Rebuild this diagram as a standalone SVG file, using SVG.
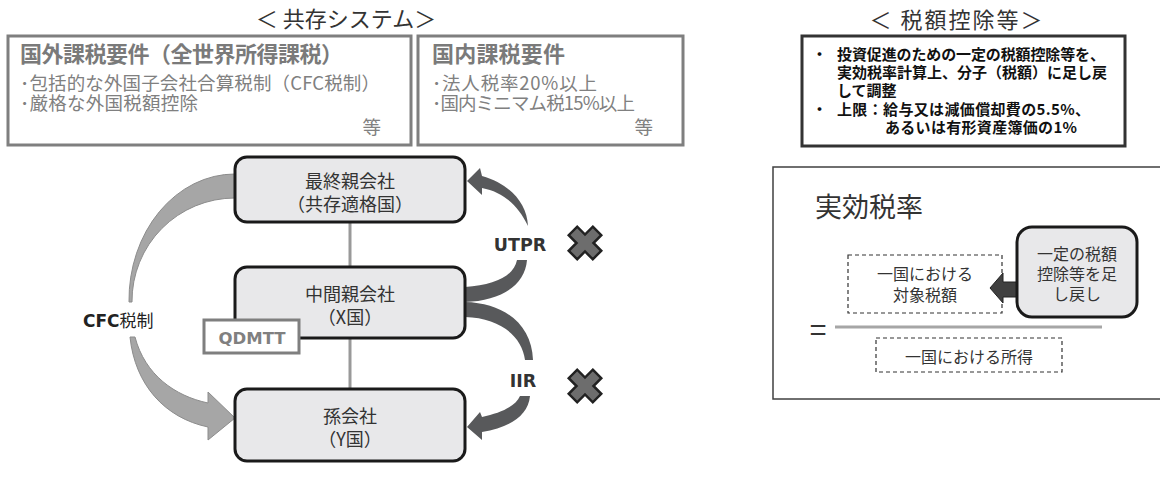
<svg xmlns="http://www.w3.org/2000/svg" width="1160" height="488" viewBox="0 0 1160 488">
<defs>
<style>
text{font-family:"Noto Sans CJK JP","Noto Sans",sans-serif;}
.ttl{font-size:22px;fill:#333;}
.gbox{fill:#fff;stroke:#7f7f7f;stroke-width:3;}
.ghead{font-size:22px;font-weight:bold;fill:#7a7a7a;}
.gtxt{font-size:18.5px;fill:#808080;}
.node{fill:#e8e8ea;stroke:#1a1a1a;stroke-width:3;}
.ntxt{font-size:18px;fill:#333;text-anchor:middle;}
.lat{font-family:"DejaVu Sans",sans-serif;font-weight:bold;}
.dash{fill:none;stroke:#333;stroke-width:1.2;stroke-dasharray:4 3;}
.rtxt{font-size:16px;fill:#333;text-anchor:middle;}
.btxt{font-size:15px;font-weight:bold;fill:#111;}
.xm{fill:#6d6d6d;stroke:#222;stroke-width:2.5;stroke-linejoin:miter;}
.dark{fill:#58595b;}
.lite{fill:#a6a6a6;stroke:#8c8c8c;stroke-width:1;}
</style>
<path id="xmark" d="M-6,-17H6V-6H17V6H6V17H-6V6H-17V-6H-6Z"/>
</defs>
<rect width="1160" height="488" fill="#fff"/>

<text class="ttl" x="346" y="27" text-anchor="middle">＜ 共存システム＞</text>
<text class="ttl" x="957" y="28" text-anchor="middle" letter-spacing="2">＜ 税額控除等＞</text>

<g id="foreign-req">
<rect class="gbox" x="8" y="36" width="403" height="109"/>
<text class="ghead" x="20" y="62" textLength="323" lengthAdjust="spacing">国外課税要件（全世界所得課税）</text>
<text class="gtxt" x="20" y="90" textLength="360" lengthAdjust="spacing">･包括的な外国子会社合算税制（CFC税制）</text>
<text class="gtxt" x="20" y="110" textLength="178" lengthAdjust="spacing">･厳格な外国税額控除</text>
<text class="gtxt" x="381" y="134" text-anchor="end">等</text>
</g>

<g id="domestic-req">
<rect class="gbox" x="418" y="36" width="265" height="109"/>
<text class="ghead" x="432" y="62" textLength="133" lengthAdjust="spacing">国内課税要件</text>
<text class="gtxt" x="432" y="90" textLength="165" lengthAdjust="spacing">･法人税率20%以上</text>
<text class="gtxt" x="432" y="110" textLength="203" lengthAdjust="spacing">･国内ミニマム税15%以上</text>
<text class="gtxt" x="653" y="134" text-anchor="end">等</text>
</g>

<g id="credit-box">
<rect x="802" y="36" width="323" height="110" fill="#fff" stroke="#333" stroke-width="3"/>
<text class="btxt" x="812" y="60">・</text>
<text class="btxt" x="837" y="60" textLength="268" lengthAdjust="spacing">投資促進のための一定の税額控除等を、</text>
<text class="btxt" x="837" y="78" textLength="270" lengthAdjust="spacing">実効税率計算上、分子（税額）に足し戻</text>
<text class="btxt" x="837" y="96">して調整</text>
<text class="btxt" x="812" y="115">・</text>
<text class="btxt" x="837" y="115" textLength="253" lengthAdjust="spacing">上限：給与又は減価償却費の5.5%、</text>
<text class="btxt" x="885" y="133" textLength="192" lengthAdjust="spacing">あるいは有形資産簿価の1%</text>
</g>

<g id="connectors">
<line x1="350" y1="222" x2="350" y2="267" stroke="#999" stroke-width="3"/>
<line x1="350" y1="338" x2="350" y2="389" stroke="#999" stroke-width="3"/>
<path class="lite" d="M235,174 A106,126 0 0 0 129,302 L132,302 A103,103 0 0 1 235,198 Z"/>
<path class="lite" d="M130,337 C135,385 165,418 208,427 L208,440 L235,418 L208,392 L208,403 C175,396 145,375 135,337 Z"/>
<path class="dark" d="M528,226 C527,203 510,184 482,176 L480,168 L467,181 L482,195 L482,188 C503,192 518,205 528,226 Z"/>
<path class="dark" d="M465,287 C495,285 514,276 517,260 L527,260 C525,286 500,301 465,302 Z"/>
<path class="dark" d="M465,302 C505,303 532,325 533,360 L525,360 C522,336 500,318 465,317 Z"/>
<path class="dark" d="M530,396 C528,416 510,427 482,432 L482,440 L467,427 L480,412 L482,417 C501,413 516,406 520,396 Z"/>
<text x="83" y="327" font-size="17" fill="#222"><tspan class="lat">CFC</tspan>税制</text>
<text class="lat" x="520" y="251" font-size="17.5" fill="#333" text-anchor="middle">UTPR</text>
<text class="lat" x="523" y="387" font-size="17.5" fill="#333" text-anchor="middle">IIR</text>
<use href="#xmark" class="xm" transform="translate(585,243) rotate(45)"/>
<use href="#xmark" class="xm" transform="translate(585,386) rotate(45)"/>
</g>

<g id="node-ultimate">
<rect class="node" x="235" y="157" width="230" height="65" rx="12"/>
<text class="ntxt" x="350" y="188">最終親会社</text>
<text class="ntxt" x="350" y="211">（共存適格国）</text>
</g>
<g id="node-intermediate">
<rect class="node" x="235" y="267" width="230" height="71" rx="12"/>
<text class="ntxt" x="350" y="301">中間親会社</text>
<text class="ntxt" x="350" y="324">（X国）</text>
</g>
<g id="node-qdmtt">
<rect x="204" y="320" width="95" height="33" fill="#fff" stroke="#7f7f7f" stroke-width="3"/>
<text class="lat" x="252" y="344" font-size="16.5" fill="#808080" text-anchor="middle">QDMTT</text>
</g>
<g id="node-grandchild">
<rect class="node" x="235" y="389" width="230" height="72" rx="12"/>
<text class="ntxt" x="350" y="423">孫会社</text>
<text class="ntxt" x="350" y="446">（Y国）</text>
</g>

<g id="etr-panel">
<rect x="773" y="167" width="400" height="232" fill="#fff" stroke="#404040" stroke-width="1.5"/>
<text x="815" y="217" font-size="27" fill="#333">実効税率</text>
<rect class="dash" x="848" y="255" width="154" height="58"/>
<text class="rtxt" x="925" y="280">一国における</text>
<text class="rtxt" x="925" y="301">対象税額</text>
<line x1="835" y1="327" x2="1102" y2="327" stroke="#a6a6a6" stroke-width="3"/>
<text x="818" y="341" font-size="30" fill="#333" text-anchor="middle" font-family="Liberation Sans, sans-serif">=</text>
<rect class="dash" x="876" y="338" width="186" height="34"/>
<text class="rtxt" x="969" y="363">一国における所得</text>
<path d="M1020,282 L1003,282 L1003,273 L990,288 L1003,303 L1003,297 L1020,297 Z" fill="#404040" stroke="#222" stroke-width="1"/>
</g>
<g id="node-addback">
<rect x="1017" y="227" width="120" height="90" rx="15" fill="#e8e8ea" stroke="#1a1a1a" stroke-width="3"/>
<text class="rtxt" x="1077" y="260">一定の税額</text>
<text class="rtxt" x="1077" y="280">控除等を足</text>
<text class="rtxt" x="1077" y="300">し戻し</text>
</g>
</svg>
